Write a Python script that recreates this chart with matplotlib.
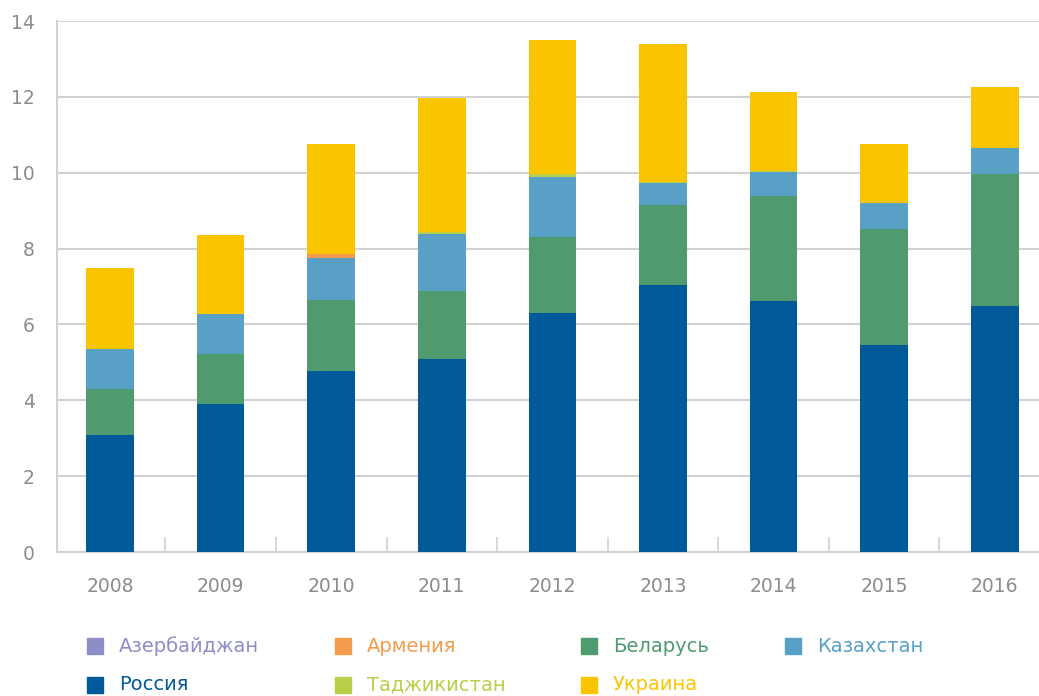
import numpy as np
import matplotlib.pyplot as plt
from matplotlib.patches import Rectangle

plt.rcParams['font.family'] = ['DejaVu Sans']

years = ['2008', '2009', '2010', '2011', '2012', '2013', '2014', '2015', '2016']
azerbaijan = [0.0, 0.0, 0.0, 0.0, 0.0, 0.0, 0.0, 0.0, 0.0]
armenia = [0.0, 0.0, 0.12, 0.0, 0.0, 0.0, 0.0, 0.0, 0.0]
belarus = [1.21, 1.31, 1.88, 1.79, 1.99, 2.11, 2.77, 3.07, 3.48]
kazakhstan = [1.05, 1.06, 1.10, 1.50, 1.59, 0.58, 0.64, 0.67, 0.67]
russia = [3.08, 3.90, 4.77, 5.09, 6.31, 7.04, 6.62, 5.45, 6.49]
tajikistan = [0.0, 0.0, 0.0, 0.07, 0.08, 0.02, 0.02, 0.0, 0.0]
ukraine = [2.14, 2.10, 2.88, 3.52, 3.54, 3.64, 2.07, 1.56, 1.63]

labels = ['Азербайджан', 'Армения', 'Беларусь', 'Казахстан', 'Россия', 'Таджикистан', 'Украина']
colors = ['#8F8DC8', '#F39B4C', '#4F9B6F', '#58A0C6', '#005A9A', '#B9CF49', '#F9C400']

# stacking order bottom -> top
stack = [
    (russia, '#005A9A'),
    (belarus, '#4F9B6F'),
    (kazakhstan, '#58A0C6'),
    (armenia, '#F39B4C'),
    (azerbaijan, '#8F8DC8'),
    (tajikistan, '#B9CF49'),
    (ukraine, '#F9C400'),
]

W, H = 1039, 696
fig = plt.figure(figsize=(W / 100, H / 100), dpi=100)
ax = fig.add_axes([57 / W, 144 / H, 1 - 57 / W, 531 / H])

x = np.arange(len(years))
bottom = np.zeros(len(years))
for vals, c in stack:
    ax.bar(x, vals, 0.43, bottom=bottom, color=c, zorder=3)
    bottom += np.array(vals)

grid_c = '#d2d2d2'
ax.set_ylim(0, 14)
ax.set_xlim(-0.48, 8.4)
ax.set_yticks(range(0, 15, 2))
ax.yaxis.grid(True, color=grid_c, linewidth=1.5, zorder=0)
ax.set_xticks(x)
ax.set_xticklabels(years)
ax.set_xticks(np.arange(0.5, 8.5, 1), minor=True)
ax.tick_params(axis='x', which='major', length=0, pad=18, labelsize=13.5, labelcolor='#8c8c8c')
ax.tick_params(axis='x', which='minor', direction='in', length=11, width=1.2, color=grid_c)
ax.tick_params(axis='y', length=0, pad=16, labelsize=13.5, labelcolor='#8c8c8c')
for s in ['top', 'right']:
    ax.spines[s].set_visible(False)
for s in ['left', 'bottom']:
    ax.spines[s].set_color(grid_c)
    ax.spines[s].set_linewidth(1.5)

# legend drawn by hand, two rows
leg_pos = [(87, 646), (335, 646), (581, 646), (785, 646),
           (87, 685), (335, 685), (581, 685)]
for (px, py), lab, c in zip(leg_pos, labels, colors):
    fig.add_artist(Rectangle((px / W, (H - py - 8) / H), 16 / W, 16 / H,
                             transform=fig.transFigure, color=c))
    fig.text((px + 32) / W, (H - py) / H, lab, color=c, fontsize=14, va='center', ha='left')

fig.savefig('out.png', dpi=100)
